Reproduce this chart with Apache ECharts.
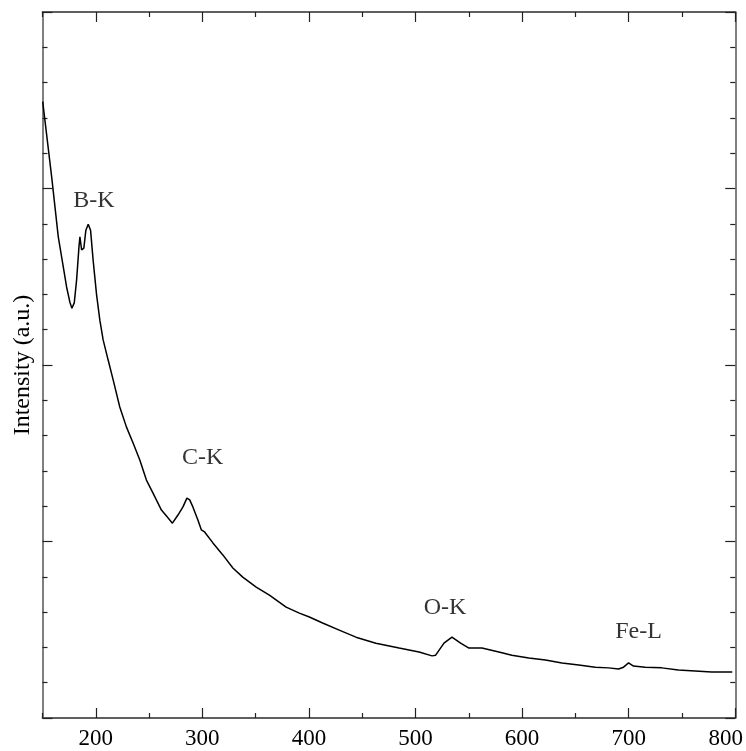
<!DOCTYPE html>
<html>
<head>
<meta charset="utf-8">
<script src="https://cdn.jsdelivr.net/npm/echarts@6/dist/echarts.min.js"></script>
<style>
html,body{margin:0;padding:0;background:#fff;}
#chart{width:746px;height:751px;}
</style>
</head>
<body>
<div id="chart"></div>
<script>
// Energy (eV) and intensity (a.u.)
const energy = [150.2,153.9,158.6,161.7,164.8,169.5,172.6,175.7,177.6,179.8,182.0,184.2,185.1,186.7,188.8,190.7,192.9,195.1,197.5,200.7,203.8,206.9,211.6,216.3,222.5,228.8,235.0,241.3,247.5,253.7,261.6,267.7,271.9,277.1,281.8,285.5,288.1,291.1,295.8,299.0,302.1,309.9,319.2,328.6,337.9,350.5,362.9,378.6,391.0,400.4,412.8,428.4,444.1,462.8,484.6,503.3,515.5,518.9,526.7,534.2,542.3,550.1,562.3,578.2,590.4,606.3,621.9,637.4,653.1,668.7,681.2,690.5,695.2,699.9,704.5,715.5,731.0,746.6,762.3,777.8,797.2];
const intensity = [17.46,16.52,15.33,14.48,13.63,12.78,12.21,11.78,11.61,11.76,12.41,13.34,13.63,13.26,13.31,13.82,13.99,13.82,12.97,12.0,11.27,10.71,10.14,9.58,8.81,8.24,7.79,7.31,6.74,6.37,5.89,5.67,5.52,5.75,5.98,6.23,6.18,5.98,5.61,5.33,5.27,4.96,4.62,4.25,3.99,3.71,3.48,3.14,2.97,2.86,2.69,2.49,2.29,2.12,1.98,1.87,1.76,1.78,2.12,2.29,2.12,1.98,1.98,1.87,1.78,1.70,1.64,1.56,1.50,1.44,1.42,1.39,1.44,1.56,1.47,1.44,1.42,1.36,1.33,1.30,1.30];

// Peak annotations
const peakNames = ['B-K','C-K','O-K','Fe-L'];
const peakX = [198.2,300.2,527.7,709.2];
const peakY = [14.65,7.37,3.12,2.44];

// Axis ticks
const xMajorTicks = [200,300,400,500,600,700,800];
const xMinorTicks = [150,250,350,450,550,650,750];
const xLabels = [200,300,400,500,600,700,800];

const frameColor = '#555';
const font = '"Liberation Serif", "DejaVu Serif", serif';

const series = [{
  type:'line',
  xAxisIndex:0, yAxisIndex:0,
  data: energy.map((x,i)=>[x,intensity[i]]),
  showSymbol:false, symbol:'none', smooth:false,
  lineStyle:{color:'#000', width:1.5},
  silent:true
},{
  type:'scatter',
  xAxisIndex:0, yAxisIndex:0,
  symbolSize:0,
  data: peakNames.map((n,i)=>({name:n, value:[peakX[i],peakY[i]]})),
  label:{show:true, position:'inside', formatter:'{b}', color:'#000', fontSize:24, fontFamily:font},
  silent:true
}];

function xAx(pos, ticks, len, labels){
  return {
    type:'value', position:pos, min:150, max:800,
    axisLine:{show:true, onZero:false, lineStyle:{color:frameColor, width:1.5}},
    axisTick:{show:true, inside:true, length:len, customValues:ticks, lineStyle:{color:'#222', width:1.2}},
    axisLabel: labels ? {show:true, customValues:xLabels, color:'#000', fontSize:23, fontFamily:font, margin:9,
      formatter:function(v){ return v===800 ? '{last|800}' : String(v); },
      rich:{last:{fontSize:23, fontFamily:font, color:'#000', padding:[0,19,0,0]}}} : {show:false},
    splitLine:{show:false}
  };
}
function yAx(pos, name){
  return {
    type:'value', position:pos, min:0, max:20, interval:5,
    name: name || '', nameLocation:'middle', nameGap:8, nameRotate:90,
    nameTextStyle:{color:'#000', fontSize:24, fontFamily:font},
    axisLine:{show:true, onZero:false, lineStyle:{color:frameColor, width:1.5}},
    axisTick:{show:true, inside:true, length:10, lineStyle:{color:'#222', width:1.2}},
    minorTick:{show:true, splitNumber:5, length:5, lineStyle:{color:'#222', width:1.2}},
    axisLabel:{show:false},
    splitLine:{show:false}, minorSplitLine:{show:false}
  };
}

const chart = echarts.init(document.getElementById('chart'), null, {renderer:'canvas'});
chart.setOption({
  animation:false,
  backgroundColor:'#fff',
  grid:{left:42.5, right:9, top:12, bottom:33, containLabel:false},
  xAxis:[
    xAx('bottom', xMajorTicks, 10, true),
    xAx('bottom', xMinorTicks, 5, false),
    xAx('top', xMajorTicks, 10, false),
    xAx('top', xMinorTicks, 5, false)
  ],
  yAxis:[ yAx('left', 'Intensity (a.u.)'), yAx('right') ],
  series: series
});
</script>
</body>
</html>
